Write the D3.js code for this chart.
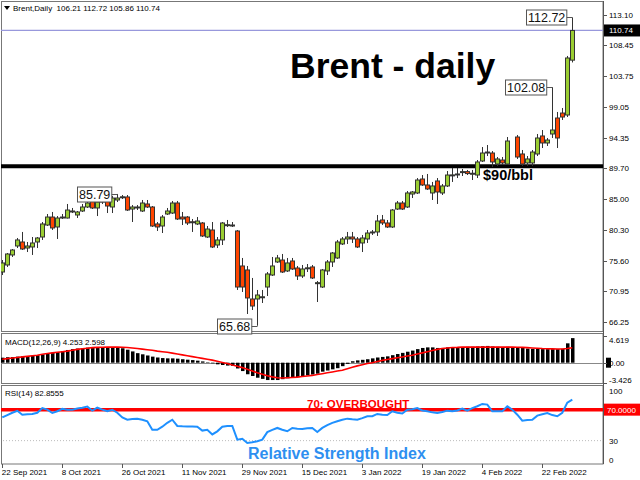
<!DOCTYPE html>
<html><head><meta charset="utf-8">
<script src="https://cdn.jsdelivr.net/npm/d3@7"></script>
<style>body{margin:0;background:#fff} svg{display:block;font-family:"Liberation Sans",Arial,sans-serif}</style>
</head><body><svg id="c" width="640" height="480"></svg>
<script>
const openP = [73.88,74.95,76.48,77.85,78.46,77.54,77.70,78.46,79.22,81.05, 82.27,80.75,82.20,82.12,83.19,82.58,83.19,83.80,84.87,83.65, 84.56,85.33,83.80,84.87,85.30,85.33,83.49,83.80,83.19,84.26, 83.80,81.21,80.90,82.73,82.88,84.41,82.27,82.27,81.55,81.21, 81.36,79.22,80.29,78.00,78.77,81.05,81.00,80.14,74.80,74.19, 69.76,69.76,70.07,71.59,73.42,75.41,75.71,74.04,75.56,74.49, 73.27,74.45,74.65,72.20,71.59,74.04,75.41,76.02,78.16,78.92, 79.22,78.92,78.31,78.92,79.95,79.99,81.82,81.36,80.75,83.49, 84.41,83.80,85.78,85.94,88.07,87.16,85.94,87.77,85.94,87.01, 88.65,88.80,89.10,89.20,88.90,88.68,90.82,92.15,92.04,90.36, 90.97,90.36,null,94.48,91.89,90.52,90.52,91.89,94.64,93.57, 94.94,97.38,98.14,97.84,106.21];
const highP = [75.71,76.78,77.39,79.07,79.99,78.46,79.22,79.22,81.51,82.73, 83.04,82.42,82.73,84.26,83.65,83.19,84.26,84.72,85.17,84.87, 85.63,85.48,85.48,85.79,85.63,85.63,84.10,84.10,84.87,84.87, 83.95,81.51,82.58,83.65,84.72,84.72,83.04,82.42,81.97,82.27, 81.51,80.90,81.51,79.22,81.51,81.82,81.51,80.29,76.02,74.80, 72.97,71.14,71.14,73.88,76.17,76.48,76.63,76.02,76.02,74.80, 74.95,75.10,74.95,72.51,74.34,75.71,76.93,78.77,79.22,79.99, 79.99,79.22,79.53,80.29,80.29,82.58,82.58,81.82,83.49,84.72, 84.72,86.24,86.24,88.22,88.68,88.84,87.62,88.22,87.31,89.29, 89.76,89.76,89.60,89.45,89.45,90.97,92.95,93.26,92.34,91.43, 91.43,94.48,null,94.79,92.50,91.58,92.50,94.94,95.55,94.33, 102.08,98.30,98.91,106.85,112.72];
const lowP = [73.42,74.65,76.17,77.54,77.24,76.93,76.48,77.54,78.77,80.90, 80.29,78.92,81.97,82.05,82.88,82.12,83.04,83.65,83.49,82.42, 84.26,82.88,82.88,84.56,85.02,83.19,81.51,83.34,83.04,83.65, 80.75,80.14,79.83,82.58,82.73,81.82,81.05,81.05,79.99,81.05, 79.22,79.07,77.54,77.54,78.00,80.75,80.75,71.14,70.83,67.47, 68.08,65.68,69.15,70.22,73.27,75.26,73.73,73.88,74.19,72.66, 72.97,73.88,72.81,69.30,71.44,73.42,74.65,75.87,78.00,78.16, 78.31,77.54,76.93,78.31,79.53,79.38,81.05,80.60,80.60,83.34, 83.34,83.65,85.17,85.78,87.01,86.40,84.87,84.26,85.63,86.85, 87.62,88.22,88.53,88.68,87.92,88.22,90.67,91.58,89.90,90.06, 90.21,90.21,null,91.13,90.06,90.06,90.06,91.58,92.80,93.11, 94.33,92.80,97.08,97.53,105.86];
const closeP = [75.26,76.63,77.24,78.77,77.39,77.85,78.31,79.07,81.21,82.27, 80.60,82.12,82.27,83.34,83.04,83.04,83.80,84.41,83.65,84.56, 85.17,83.95,85.17,85.17,85.36,83.34,83.80,83.75,84.41,83.80, 80.90,80.75,82.27,83.19,84.41,81.97,81.97,81.36,81.51,81.66, 79.38,80.44,77.70,78.77,81.36,81.10,81.05,71.59,71.59,69.92, 68.69,70.37,70.10,73.58,74.80,76.02,73.88,75.26,74.34,73.27, 74.34,74.52,72.97,72.25,74.19,75.41,76.78,78.46,78.92,79.22, 78.92,77.70,79.07,79.83,79.99,81.66,81.36,80.75,83.34,84.41, 83.49,85.94,86.09,87.92,87.16,86.55,87.01,86.09,87.01,88.68, 88.70,88.84,89.20,88.90,88.95,90.67,92.04,92.19,90.67,91.13, 90.52,93.87,null,91.43,90.36,91.13,92.19,94.33,93.57,94.02, 95.55,94.33,97.53,106.54,110.74];
const macdMain = [0.87,0.95,0.98,1.05,1.10,1.15,1.20,1.30,1.45,1.60, 1.70,1.85,2.00,2.20,2.35,2.45,2.50,2.60,2.65,2.70, 2.70,2.70,2.70,2.70,2.50,2.25,1.95,1.65,1.45,1.25, 1.05,0.90,0.80,0.75,0.75,0.70,0.60,0.52,0.45,0.35, 0.22,0.08,-0.10,-0.28,-0.40,-0.50,-0.55,-1.00,-1.45,-2.00, -2.30,-2.60,-2.80,-3.00,-3.00,-3.00,-2.85,-2.70,-2.60,-2.50, -2.35,-2.20,-2.05,-1.90,-1.55,-1.35,-1.15,-0.95,-0.60,-0.20, 0.25,0.40,0.50,0.60,0.75,0.90,1.00,1.10,1.30,1.50, 1.70,1.90,2.10,2.35,2.55,2.65,2.65,2.55,2.55,2.65, 2.70,2.70,2.70,2.75,2.75,2.80,2.85,2.90,2.80,2.75, 2.70,2.75,2.70,2.65,2.55,2.45,2.40,2.40,2.35,2.35, 2.35,2.35,2.40,3.35,4.253];
const macdSignal = [0.60,0.70,0.80,0.90,1.00,1.10,1.20,1.30,1.45,1.60, 1.70,1.80,1.90,2.00,2.15,2.30,2.40,2.50,2.60,2.65, 2.68,2.70,2.70,2.70,2.68,2.62,2.55,2.45,2.35,2.25, 2.15,2.00,1.90,1.80,1.65,1.50,1.35,1.20,1.05,0.90, 0.75,0.60,0.45,0.25,0.05,-0.15,-0.40,-0.60,-0.85,-1.15, -1.45,-1.75,-2.00,-2.25,-2.45,-2.60,-2.65,-2.60,-2.55,-2.50, -2.40,-2.30,-2.20,-2.05,-1.90,-1.75,-1.60,-1.45,-1.30,-1.05, -0.80,-0.55,-0.35,-0.15,0.00,0.20,0.40,0.55,0.70,0.85, 1.00,1.15,1.30,1.50,1.70,1.90,2.10,2.30,2.45,2.55, 2.62,2.65,2.70,2.70,2.70,2.70,2.70,2.70,2.70,2.70, 2.70,2.70,2.70,2.68,2.65,2.60,2.55,2.50,2.45,2.42, 2.40,2.38,2.37,2.45,2.598];
const rsi = [60,63,66,68.5,63.5,64,64.5,66,72,70, 65.7,68,71,70,70,71.5,72.5,74,68.7,72.5, 70,68,69.9,66,60,57,58,58.3,57,55, 44.2,44,48,53,57,49,48.5,48.3,48.2,48, 43,44,38,42,48,49,49,31.3,32.5,27, 28,29.3,31.3,41,44,46.4,44,42.1,46.4,45.5, 45,46,46.4,41.2,46.4,50,53,55,57,58.4, 57.5,57,59,61.5,61.5,64.5,63.5,63,67.9,66, 65,69.9,70.5,72,69,67.9,66.5,65.7,67,68.7, 67.9,69,71.3,68.7,72,74.4,77.4,76.5,67.9,68, 67.9,74.4,70,63.5,55.8,56.5,57,62.3,64,65.5, 63,61.5,66,79,82.8555];
const priceTicks = [66.25,70.95,75.60,80.30,85.00,89.70,94.35,99.05,103.75,108.45,113.10];
const dateLabels = ["22 Sep 2021","8 Oct 2021","26 Oct 2021","11 Nov 2021","29 Nov 2021","15 Dec 2021","3 Jan 2022","19 Jan 2022","4 Feb 2022","22 Feb 2022"];
const dateIdx = [0,12,24,36,48,60,72,84,96,108];
const annoValues = [85.79,65.68,102.08,112.72];
const annoIdx = [23,51,110,114];
const lastClose = 110.74, supportLevel = 90, rsiOB = 70, rsiLow = 30;

const svg = d3.select("#c");
const n = closeP.length;
const x = d3.scaleLinear().domain([0,114]).range([2.3,572.3]);
const yP = d3.scaleLinear().domain([66.25,113.10]).range([322,15]);
const yM = d3.scaleLinear().domain([-3.426,4.619]).range([382.5,336]);
const yR = d3.scaleLinear().domain([0,100]).range([463.9,386.4]);
const AX = 603;

const defs = svg.append("defs");
[["cm",1,1,602,330],["cmacd",1,333,602,50],["crsi",1,385,602,79]].forEach(d=>{
  defs.append("clipPath").attr("id",d[0]).append("rect").attr("x",d[1]).attr("y",d[2]).attr("width",d[3]).attr("height",d[4]);
});

const frame = svg.append("g").attr("fill","none").attr("stroke","#777").attr("stroke-width",1);
frame.append("rect").attr("x",1.5).attr("y",1.5).attr("width",AX-1.5).attr("height",330);
frame.append("rect").attr("x",1.5).attr("y",333.5).attr("width",AX-1.5).attr("height",50);
frame.append("rect").attr("x",1.5).attr("y",385.5).attr("width",AX-1.5).attr("height",78.5);

const gm = svg.append("g").attr("clip-path","url(#cm)");
gm.append("line").attr("x1",0).attr("x2",AX).attr("y1",yP(lastClose)).attr("y2",yP(lastClose)).attr("stroke","#9898dc").attr("stroke-width",1.2);
gm.append("line").attr("x1",0).attr("x2",AX+3).attr("y1",yP(supportLevel)).attr("y2",yP(supportLevel)).attr("stroke","#000").attr("stroke-width",4);

const idx = d3.range(n).filter(i=>closeP[i]!==null);
gm.selectAll("line.w").data(idx).join("line").attr("class","w")
  .attr("x1",i=>Math.floor(x(i))+0.5).attr("x2",i=>Math.floor(x(i))+0.5)
  .attr("y1",i=>yP(highP[i])).attr("y2",i=>yP(lowP[i])).attr("stroke","#333").attr("stroke-width",1);
gm.selectAll("rect.b").data(idx).join("rect").attr("class","b")
  .attr("x",i=>Math.floor(x(i))-1.5).attr("width",4)
  .attr("y",i=>yP(Math.max(openP[i],closeP[i])))
  .attr("height",i=>Math.max(1,Math.abs(yP(openP[i])-yP(closeP[i]))))
  .attr("fill",i=>closeP[i]>=openP[i]?"#9acd32":"#ff4500")
  .attr("stroke","#333").attr("stroke-width",1);

annoValues.forEach((v,k)=>{
  const cx = Math.floor(x(annoIdx[k]))+0.5, cy = Math.round(yP(v))+0.5;
  const g = svg.append("g");
  const t = g.append("text").text(v.toFixed(2)).attr("font-size",12.5).attr("fill","#111");
  const w = t.node().getComputedTextLength();
  const bx = Math.round(cx - 6 - w - 3) + 0.5;
  g.insert("rect","text").attr("x",bx).attr("y",cy-7.5).attr("width",w+3).attr("height",15)
    .attr("fill","#fff").attr("stroke","#555").attr("stroke-width",1);
  t.attr("x",bx+1.5).attr("y",cy+4.5);
  g.append("line").attr("x1",bx+w+3).attr("x2",cx).attr("y1",cy).attr("y2",cy).attr("stroke","#555");
});

svg.append("text").text("Brent - daily").attr("x",290).attr("y",78).attr("font-size",35.5).attr("font-weight","bold").attr("fill","#000");
svg.append("text").text("$90/bbl").attr("x",483).attr("y",180).attr("font-size",14.5).attr("font-weight","bold").attr("fill","#000");

svg.append("path").attr("d","M4,6 L10,6 L7,10 Z").attr("fill","#000");
svg.append("text").text("Brent,Daily  106.21 112.72 105.86 110.74").attr("x",13).attr("y",11).attr("font-size",8).attr("fill","#000").style("white-space","pre");

svg.append("line").attr("x1",AX+0.5).attr("x2",AX+0.5).attr("y1",1).attr("y2",464).attr("stroke","#555");
const ra = svg.append("g").attr("font-size",8).attr("fill","#000");
priceTicks.forEach(p=>{
  ra.append("line").attr("x1",AX).attr("x2",AX+4).attr("y1",Math.round(yP(p))+0.5).attr("y2",Math.round(yP(p))+0.5).attr("stroke","#555");
  ra.append("text").text(p.toFixed(2)).attr("x",609).attr("y",yP(p)+3);
});
ra.append("rect").attr("x",604).attr("y",yP(lastClose)-6).attr("width",36).attr("height",12).attr("fill","#000");
ra.append("text").text(lastClose.toFixed(2)).attr("x",609).attr("y",yP(lastClose)+3).attr("fill","#fff");

const gmc = svg.append("g").attr("clip-path","url(#cmacd)");
gmc.append("line").attr("x1",0).attr("x2",AX).attr("y1",Math.round(yM(0))+0.5).attr("y2",Math.round(yM(0))+0.5).attr("stroke","#888");
gmc.selectAll("rect.h").data(d3.range(n)).join("rect").attr("class","h")
  .attr("x",i=>Math.floor(x(i))-1).attr("width",3.5)
  .attr("y",i=>Math.min(yM(0),yM(macdMain[i])))
  .attr("height",i=>Math.abs(yM(macdMain[i])-yM(0)))
  .attr("fill","#000");
gmc.append("path").datum(d3.range(n)).attr("fill","none").attr("stroke","#ff0000").attr("stroke-width",1.6)
  .attr("d",d3.line().x(i=>x(i)).y(i=>yM(macdSignal[i])));
svg.append("text").text("MACD(12,26,9) 4.253 2.598").attr("x",5).attr("y",345).attr("font-size",8);
const mt = svg.append("g").attr("font-size",8);
mt.append("text").text("4.619").attr("x",609).attr("y",yM(4.619)+7);
mt.append("rect").attr("x",606).attr("y",yM(0)-5).attr("width",5).attr("height",10).attr("fill","#000");
mt.append("text").text("0.00").attr("x",609).attr("y",yM(0)+3);
mt.append("text").text("-3.426").attr("x",609).attr("y",yM(-3.426));
[4.619,0,-3.426].forEach(v=>mt.append("line").attr("x1",AX).attr("x2",AX+4).attr("y1",Math.round(yM(v))+0.5).attr("y2",Math.round(yM(v))+0.5).attr("stroke","#555"));

const gr = svg.append("g").attr("clip-path","url(#crsi)");
gr.append("line").attr("x1",0).attr("x2",AX).attr("y1",yR(rsiLow)).attr("y2",yR(rsiLow)).attr("stroke","#bbb").attr("stroke-dasharray","1,2");
gr.append("line").attr("x1",0).attr("x2",AX).attr("y1",yR(rsiOB)).attr("y2",yR(rsiOB)).attr("stroke","#ff0000").attr("stroke-width",3.5);
gr.append("path").datum(d3.range(n)).attr("fill","none").attr("stroke","#1e90ff").attr("stroke-width",2)
  .attr("d",d3.line().x(i=>x(i)).y(i=>yR(rsi[i])));
svg.append("text").text("RSI(14) 82.8555").attr("x",5).attr("y",396).attr("font-size",8);
svg.append("text").text("70: OVERBOUGHT").attr("x",307).attr("y",408).attr("font-size",11.5).attr("font-weight","bold").attr("fill","#ff0000");
svg.append("text").text("Relative Strength Index").attr("x",248).attr("y",459).attr("font-size",16).attr("font-weight","bold").attr("fill","#2e8ff0");
const rt = svg.append("g").attr("font-size",8);
rt.append("text").text("100").attr("x",609).attr("y",yR(100)+8);
rt.append("rect").attr("x",604).attr("y",yR(70)-6).attr("width",36).attr("height",12).attr("fill","#ff0000");
rt.append("text").text("70.0000").attr("x",607).attr("y",yR(70)+3).attr("fill","#fff");
rt.append("text").text("30").attr("x",609).attr("y",yR(30)+3);
rt.append("text").text("0").attr("x",609).attr("y",yR(0)-1);

const ta = svg.append("g").attr("font-size",8);
dateIdx.forEach((di,k)=>{
  const xx = Math.round(x(di))+0.5;
  ta.append("line").attr("x1",xx).attr("x2",xx).attr("y1",464).attr("y2",468).attr("stroke","#555");
  ta.append("text").text(dateLabels[k]).attr("x",x(di)-0.5).attr("y",475);
});
</script></body></html>
